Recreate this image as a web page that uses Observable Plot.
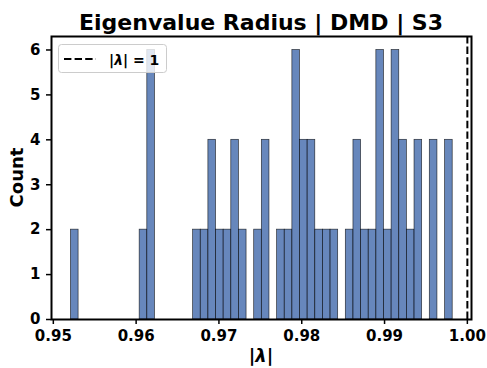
<!DOCTYPE html>
<html>
<head>
<meta charset="utf-8">
<script src="https://cdn.jsdelivr.net/npm/d3@7"></script>
<script src="https://cdn.jsdelivr.net/npm/@observablehq/plot@0.6"></script>
<style>
  body { margin: 0; background: #fff; }
  svg { font-family: "DejaVu Sans", sans-serif; }
</style>
</head>
<body>
<div id="chart"></div>
<script>
// Histogram of DMD eigenvalue moduli: 50 equal-width bins
const binStart = 0.95213;
const binWidth = 0.000922;
const counts = [
  2, 0, 0, 0, 0, 0, 0, 0, 0, 2,
  6, 0, 0, 0, 0, 0, 2, 2, 4, 2,
  2, 4, 2, 0, 2, 4, 0, 2, 2, 6,
  4, 4, 2, 2, 2, 0, 2, 4, 2, 2,
  6, 2, 6, 4, 2, 4, 0, 4, 0, 4
];
const xTicks = [0.95, 0.96, 0.97, 0.98, 0.99, 1.00];
const yTicks = [0, 1, 2, 3, 4, 5, 6];
const unitCircle = [1];
const titleText = "Eigenvalue Radius | DMD | S3";
const yLabel = "Count";

const bins = counts
  .map((c, i) => ({ x1: binStart + i * binWidth, x2: binStart + (i + 1) * binWidth, count: c }))
  .filter(d => d.count > 0);

const W = 487, H = 368;
const mL = 51, mR = 16, mT = 36, mB = 49;

const chart = Plot.plot({
  width: W,
  height: H,
  marginLeft: mL,
  marginRight: mR,
  marginTop: mT,
  marginBottom: mB,
  style: { fontFamily: "DejaVu Sans, sans-serif", background: "#fff", overflow: "visible" },
  x: { domain: [0.94978, 1.0005] },
  y: { domain: [0, 6.3] },
  marks: [
    Plot.rectY(bins, {
      x1: "x1", x2: "x2", y: "count",
      fill: "#4C72B0", fillOpacity: 0.85,
      stroke: "#000", strokeOpacity: 0.75, strokeWidth: 0.7
    }),
    Plot.ruleX(unitCircle, { stroke: "#000", strokeWidth: 2, strokeDasharray: "7.4,3.2" }),
    Plot.axisX(xTicks, {
      tickFormat: d => d.toFixed(2), tickSize: 5, tickPadding: 6,
      strokeWidth: 1.5, fontSize: 15, fontWeight: "bold", fill: "#000", label: null
    }),
    Plot.axisY(yTicks, {
      tickFormat: d => String(d), tickSize: 5, tickPadding: 6,
      strokeWidth: 1.5, fontSize: 15, fontWeight: "bold", fill: "#000", label: null
    }),
    Plot.frame({ stroke: "#000", strokeWidth: 2 })
  ]
});

const svg = d3.select(chart);
const cx = mL + (W - mL - mR) / 2;
const cy = mT + (H - mT - mB) / 2;

// title
svg.append("text")
  .attr("x", cx).attr("y", 30)
  .attr("text-anchor", "middle")
  .attr("font-size", 22).attr("font-weight", "bold").attr("fill", "#000")
  .text(titleText);

// y axis label
svg.append("text")
  .attr("transform", `translate(23,${cy}) rotate(-90)`)
  .attr("text-anchor", "middle")
  .attr("font-size", 18).attr("font-weight", "bold").attr("fill", "#000")
  .text(yLabel);

// x axis label |λ|
const xl = svg.append("text")
  .attr("x", cx).attr("y", 362)
  .attr("text-anchor", "middle")
  .attr("font-size", 18).attr("font-weight", "bold").attr("fill", "#000");
xl.append("tspan").text("|");
xl.append("tspan").attr("font-style", "italic").text("λ");
xl.append("tspan").text("|");

// legend
const lg = svg.append("g");
lg.append("rect")
  .attr("x", 58.5).attr("y", 44.5).attr("width", 108).attr("height", 28).attr("rx", 3)
  .attr("fill", "#fff").attr("fill-opacity", 0.8)
  .attr("stroke", "#ccc").attr("stroke-width", 1);
lg.append("line")
  .attr("x1", 64).attr("x2", 96).attr("y1", 59).attr("y2", 59)
  .attr("stroke", "#000").attr("stroke-width", 2).attr("stroke-dasharray", "7.4,3.2");
const lt = lg.append("text")
  .attr("x", 109).attr("y", 64.5)
  .attr("text-anchor", "start")
  .attr("font-size", 14).attr("font-weight", "bold").attr("fill", "#000");
lt.append("tspan").text("|");
lt.append("tspan").attr("font-style", "italic").text("λ");
lt.append("tspan").text("| = 1");

document.getElementById("chart").appendChild(chart);
</script>
</body>
</html>
